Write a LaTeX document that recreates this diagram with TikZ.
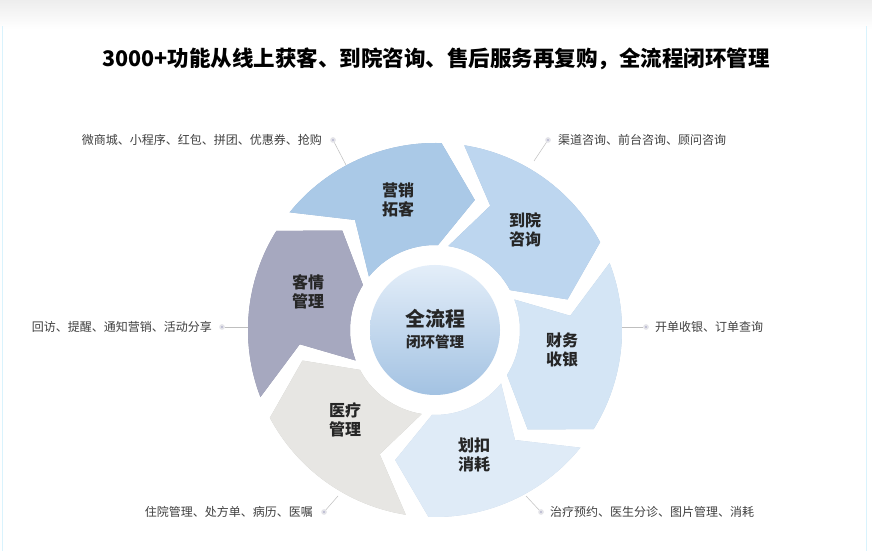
\documentclass[tikz,border=0pt]{standalone}
\usepackage{fontspec}
\setmainfont{Noto Sans CJK SC}
\usetikzlibrary{shadings,calc}
\definecolor{ctop}{HTML}{E4EEF9}
\definecolor{cbot}{HTML}{A3C2E2}
\begin{document}
\begin{tikzpicture}[x=1pt,y=1pt,
  lbl/.style={font=\fontsize{12}{14}\selectfont, text=black!75, inner sep=0pt},
  seglbl/.style={font=\bfseries\fontsize{16}{19}\selectfont, align=center, text=black!85},
  leader/.style={draw=black!25, line width=0.5pt},
  dotm/.style={circle, fill=blue!20!gray!45, inner sep=0pt, minimum size=4pt, draw=blue!10!gray!20, line width=1.5pt}]
\useasboundingbox (0,0) rectangle (872,551);
\fill[white] (0,0) rectangle (872,551);
\shade[top color=black!7, bottom color=white] (0,551) rectangle (872,522);
\draw[cyan!15!white, line width=1pt] (2,0) -- (2,525) (866,0) -- (866,525);
\node[font=\bfseries\fontsize{21.5}{24}\selectfont] (title) at (436,492) {3000+功能从线上获客、到院咨询、售后服务再复购，全流程闭环管理};
% ring
\def\Ri{85}\def\Ro{187}\def\Rm{136}\def\dd{15}\def\gg{7}
\coordinate (O) at (435,221);
\foreach \c/\fc/\sc in {106/AAC9E7/8FAFD0, 46/BDD6EF/9FBBDA, -14/D4E5F5/B7CCE2, -74/DFEBF7/C3D3E6, -134/E7E6E3/C9C8C4, 166/A6A8BF/8A8CA5}{
  \pgfmathsetmacro{\b}{\c-18}
  \pgfmathsetmacro{\t}{\c+42-\gg}
  \definecolor{fc}{HTML}{\fc}\definecolor{sc}{HTML}{\sc}
  \foreach \dy/\col in {-7/sc,0/fc}{
    \fill[\col,shift={(0,\dy)}] ($(O)+(\t:\Ri)$) arc[start angle=\t, end angle=\b, radius=\Ri]
      -- ($(O)+(\b-\dd:\Rm)$) -- ($(O)+(\b:\Ro)$)
      arc[start angle=\b, end angle=\t, radius=\Ro]
      -- ($(O)+(\t-\dd:\Rm)$) -- cycle;
  }
}
% center
\shade[top color=ctop, bottom color=cbot] (O) circle[radius=65];
\node[font=\bfseries\fontsize{20}{22}\selectfont, text=black!85] (c1) at (435,232) {全流程};
\node[font=\bfseries\fontsize{14.5}{17}\selectfont, text=black!85] (c2) at (435,209) {闭环管理};
\node[seglbl] (s1) at (398,351) {营销\\拓客};
\node[seglbl] (s2) at (525,321) {到院\\咨询};
\node[seglbl] (s3) at (562,201) {财务\\收银};
\node[seglbl] (s4) at (474,96) {划扣\\消耗};
\node[seglbl] (s5) at (345,131) {医疗\\管理};
\node[seglbl] (s6) at (308,259) {客情\\管理};
% labels
\node[lbl, anchor=east] (l1) at (322,411) {微商城、小程序、红包、拼团、优惠券、抢购};
\node[dotm] (d1) at (333,411) {}; \coordinate (e1) at (346,386);
\node[lbl, anchor=west] (l2) at (558,411) {渠道咨询、前台咨询、顾问咨询};
\node[dotm] (d2) at (548,411) {}; \coordinate (e2) at (534,390);
\node[lbl, anchor=west] (l3) at (655,224) {开单收银、订单查询};
\node[dotm] (d3) at (646,224) {}; \coordinate (e3) at (622,224);
\node[lbl, anchor=west] (l4) at (550,39) {治疗预约、医生分诊、图片管理、消耗};
\node[dotm] (d4) at (541,39) {}; \coordinate (e4) at (526,55);
\node[lbl, anchor=east] (l5) at (313,39) {住院管理、处方单、病历、医嘱};
\node[dotm] (d5) at (324,39) {}; \coordinate (e5) at (338,55);
\node[lbl, anchor=east] (l6) at (212,224) {回访、提醒、通知营销、活动分享};
\node[dotm] (d6) at (222,224) {}; \coordinate (e6) at (248,224);
\foreach \i in {1,...,6}{\draw[leader] (d\i) -- (e\i);}
\end{tikzpicture}
\end{document}
